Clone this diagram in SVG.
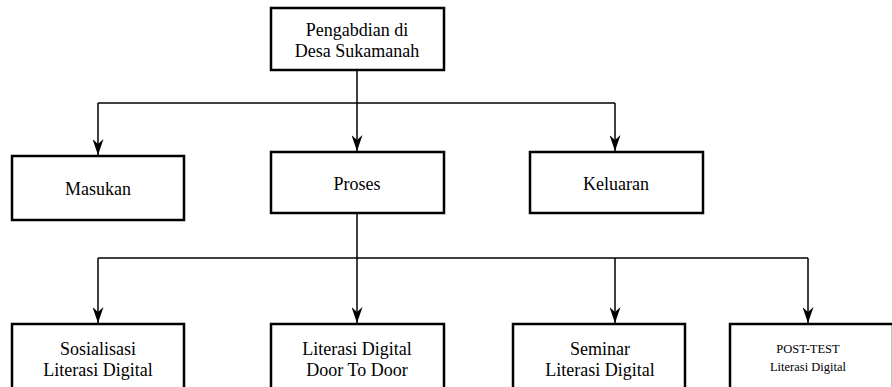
<svg xmlns="http://www.w3.org/2000/svg" width="892" height="387" viewBox="0 0 892 387">
<style>
.box{fill:#fff;stroke:#000;stroke-width:2.5}
text{font-family:"Liberation Serif","Times New Roman",Times,serif;font-size:18px;fill:#000;text-anchor:middle}
text.s{font-size:12.5px}
.c{fill:none;stroke:#000;stroke-width:1.5}
</style>
<defs>
<marker id="ah" markerWidth="16" markerHeight="11" refX="16" refY="5.5" orient="auto" markerUnits="userSpaceOnUse" viewBox="0 0 16 11">
<path d="M0,0 L16,5.5 L0,11 L5,5.5 Z" fill="#000"/>
</marker>
</defs>
<g id="connectors">
<path class="c" d="M357,70 V151" marker-end="url(#ah)"/>
<path class="c" d="M98,103 H615"/>
<path class="c" d="M98,103 V155" marker-end="url(#ah)"/>
<path class="c" d="M615,103 V151" marker-end="url(#ah)"/>
<path class="c" d="M357,213 V323" marker-end="url(#ah)"/>
<path class="c" d="M98,258 H808"/>
<path class="c" d="M98,258 V323" marker-end="url(#ah)"/>
<path class="c" d="M615,258 V323" marker-end="url(#ah)"/>
<path class="c" d="M808,258 V323" marker-end="url(#ah)"/>
</g>
<g id="n-top"><rect class="box" x="271" y="8" width="173" height="62"/><text x="357" y="36">Pengabdian di</text><text x="357" y="57">Desa Sukamanah</text></g>
<g id="n-masukan"><rect class="box" x="12" y="156" width="172" height="64"/><text x="98" y="195">Masukan</text></g>
<g id="n-proses"><rect class="box" x="271" y="152" width="173" height="61"/><text x="357" y="190">Proses</text></g>
<g id="n-keluaran"><rect class="box" x="530" y="152" width="173" height="61"/><text x="616" y="190">Keluaran</text></g>
<g id="n-sos"><rect class="box" x="12" y="324" width="172" height="70"/><text x="98" y="355">Sosialisasi</text><text x="98" y="376">Literasi Digital</text></g>
<g id="n-door"><rect class="box" x="271" y="324" width="173" height="70"/><text x="357" y="355">Literasi Digital</text><text x="357" y="376">Door To Door</text></g>
<g id="n-sem"><rect class="box" x="513" y="324" width="172" height="70"/><text x="600" y="355">Seminar</text><text x="600" y="376">Literasi Digital</text></g>
<g id="n-post"><rect class="box" x="730" y="324" width="163" height="70"/><text class="s" x="808" y="353">POST-TEST</text><text class="s" x="808" y="371">Literasi Digital</text></g>
</svg>
